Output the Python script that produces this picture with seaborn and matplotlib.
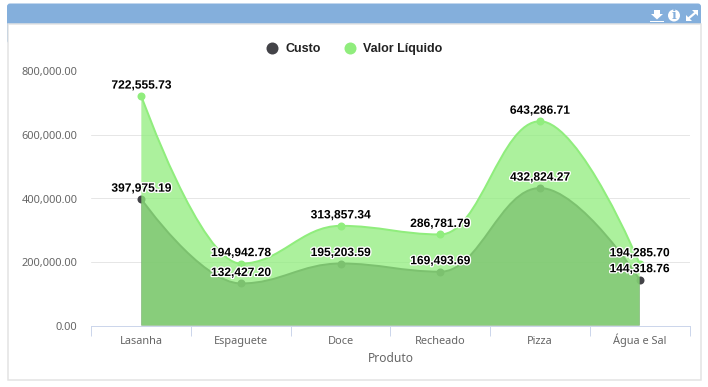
import numpy as np
import pandas as pd
import matplotlib
matplotlib.use("Agg")
import matplotlib.pyplot as plt
import matplotlib.patheffects as pe
from matplotlib.path import Path
from matplotlib.patches import PathPatch, Rectangle, FancyBboxPatch, Circle, Polygon
from matplotlib.lines import Line2D
import seaborn as sns

categories = ["Lasanha", "Espaguete", "Doce", "Recheado", "Pizza", "Água e Sal"]
custo = [397975.19, 132427.20, 195203.59, 169493.69, 432824.27, 144318.76]
valor_liquido = [722555.73, 194942.78, 313857.34, 286781.79, 643286.71, 194285.70]
y_ticks = [0, 200000, 400000, 600000, 800000]

W, H = 708, 387
DARK, GREEN = "#434348", "#90ed7d"
TXT = "#666666"
FONT = "Noto Sans"
BOLD = "Liberation Sans"

sns.set_theme(style="white")
plt.rcParams["font.family"] = [FONT, "DejaVu Sans"]
px = 72 / 100  # points per pixel at dpi 100

fig = plt.figure(figsize=(W / 100, H / 100), dpi=100, facecolor="white")

# panel chrome, in pixel coordinates
bg = fig.add_axes([0, 0, 1, 1], zorder=0)
bg.set_xlim(0, W); bg.set_ylim(H, 0); bg.axis("off")
bg.add_patch(FancyBboxPatch((7, 3.5), 694, 40, boxstyle="round,pad=0,rounding_size=3",
                            fc="#84afdc", ec="none"))
bg.add_patch(Rectangle((7.5, 23.5), 693, 356.5, fc="white", ec="#e3e3e3", lw=1.5 * px))
# header icons
bg.add_patch(Polygon([(654, 10), (660, 10), (660, 14), (663, 14), (657, 19.5), (651, 14), (654, 14)],
                     fc="white", ec="none"))
bg.add_patch(Rectangle((650, 20.5), 13.5, 1.7, fc="white", ec="none"))
bg.add_patch(Circle((674, 15.5), 6, fc="white", ec="none"))
bg.text(674, 15.8, "i", color="#84afdc", fontsize=9, fontweight="bold", ha="center", va="center",
        family="DejaVu Serif")
bg.add_patch(Polygon([(692, 10), (698, 10), (698, 16)], fc="white", ec="none"))
bg.add_patch(Polygon([(686, 21), (686, 15), (692, 21)], fc="white", ec="none"))
bg.plot([689, 695], [18, 13], color="white", lw=1.6)

L, R, T, B = 91.5, 689.5, 71.5, 325.5
ax = fig.add_axes([L / W, 1 - B / H, (R - L) / W, (B - T) / H], zorder=1)
ax.patch.set_alpha(0)


def spline_path(xs, ys, smoothing=1.5):
    """Monotone-style cubic through the data points."""
    n = len(xs)
    d = smoothing + 1
    lc, rc = [None] * n, [None] * n
    for i in range(n):
        x, y = xs[i], ys[i]
        if i == 0 or i == n - 1:
            lc[i] = rc[i] = (x, y)
            continue
        px0, py0, nx, ny = xs[i - 1], ys[i - 1], xs[i + 1], ys[i + 1]
        lx, ly = (smoothing * x + px0) / d, (smoothing * y + py0) / d
        rx, ry = (smoothing * x + nx) / d, (smoothing * y + ny) / d
        c = (ry - ly) * (rx - x) / (rx - lx) + y - ry
        ly += c; ry += c
        if (ly > py0 and ly > y) or (ly < py0 and ly < y):
            ly = max(py0, y) if ly > y else min(py0, y)
            ry = 2 * y - ly
        if (ry > ny and ry > y) or (ry < ny and ry < y):
            ry = max(ny, y) if ry > y else min(ny, y)
            ly = 2 * y - ry
        lc[i], rc[i] = (lx, ly), (rx, ry)
    verts, codes = [(xs[0], ys[0])], [Path.MOVETO]
    for i in range(1, n):
        verts += [rc[i - 1], lc[i], (xs[i], ys[i])]
        codes += [Path.CURVE4] * 3
    return verts, codes


xpos = np.arange(len(categories))
for z, (name, vals, col) in enumerate([("Custo", custo, DARK), ("Valor Líquido", valor_liquido, GREEN)]):
    base = 3 + z * 3
    v, c = spline_path(list(xpos), vals)
    fill = Path(v + [(xpos[-1], 0), (xpos[0], 0), v[0]], c + [Path.LINETO, Path.LINETO, Path.CLOSEPOLY])
    ax.add_patch(PathPatch(fill, fc=col, ec="none", alpha=0.75, zorder=base))
    ax.add_patch(PathPatch(Path(v, c), fc="none", ec=col, lw=2 * px, zorder=base + 1, capstyle="round"))
    df = pd.DataFrame({"Produto": xpos, "v": vals})
    sns.scatterplot(data=df, x="Produto", y="v", color=col, s=(8 * px) ** 2, linewidth=0,
                    ax=ax, zorder=base + 2, clip_on=False, legend=False)

halo = [pe.withStroke(linewidth=2.6 * px, foreground="white")]
for vals in (custo, valor_liquido):
    for x, y in zip(xpos, vals):
        ax.annotate(f"{y:,.2f}", (x, y), xytext=(0, 10.5 * px), textcoords="offset points",
                    ha="center", va="center", fontsize=12 * px, fontweight="bold", family=BOLD,
                    color="black", path_effects=halo, zorder=20, annotation_clip=False)

ax.set_xlim(-0.5, len(categories) - 0.5)
ax.set_ylim(0, 800000)
ax.set_yticks(y_ticks)
ax.set_yticklabels([f"{t:,.2f}" for t in y_ticks], fontsize=11 * px, color=TXT)
ax.grid(axis="y", color="#e6e6e6", lw=1 * px)
ax.set_axisbelow(True)
for s in ("top", "right", "left"):
    ax.spines[s].set_visible(False)
ax.spines["bottom"].set_color("#ccd6eb")
ax.spines["bottom"].set_linewidth(1 * px)
ax.tick_params(axis="y", length=0, pad=14 * px)
ax.set_xticks(np.append(xpos - 0.5, xpos[-1] + 0.5))
ax.set_xticklabels([""] * (len(categories) + 1))
ax.tick_params(axis="x", length=10 * px, width=1 * px, color="#ccd6eb", bottom=True)
ax.set_xticks(xpos, labels=categories, minor=True, fontsize=11 * px, color=TXT)
ax.tick_params(axis="x", which="minor", length=0, pad=18.5 * px, bottom=False)
for lab in ax.get_xticklabels(minor=True):
    lab.set_va("baseline")
ax.set_xlabel("Produto", fontsize=12 * px, color=TXT, labelpad=0)
ax.xaxis.set_label_coords(0.5, -(358 - B) / (B - T), transform=ax.transAxes)
ax.xaxis.label.set_va("center")
ax.set_ylabel("")

handles = [Line2D([], [], ls="", marker="o", ms=12 * px, mfc=DARK, mec="none", label="Custo"),
           Line2D([], [], ls="", marker="o", ms=12 * px, mfc=GREEN, mec="none", label="Valor Líquido")]
fig.legend(handles=handles, loc="center", bbox_to_anchor=(353.5 / W, 1 - 49 / H), ncols=2, frameon=False,
           prop={"size": 12.5 * px, "weight": "bold", "family": BOLD}, labelcolor="#222222",
           handletextpad=0.45, columnspacing=1.7, handlelength=1.2)

fig.savefig("out.png", dpi=100, facecolor="white")
